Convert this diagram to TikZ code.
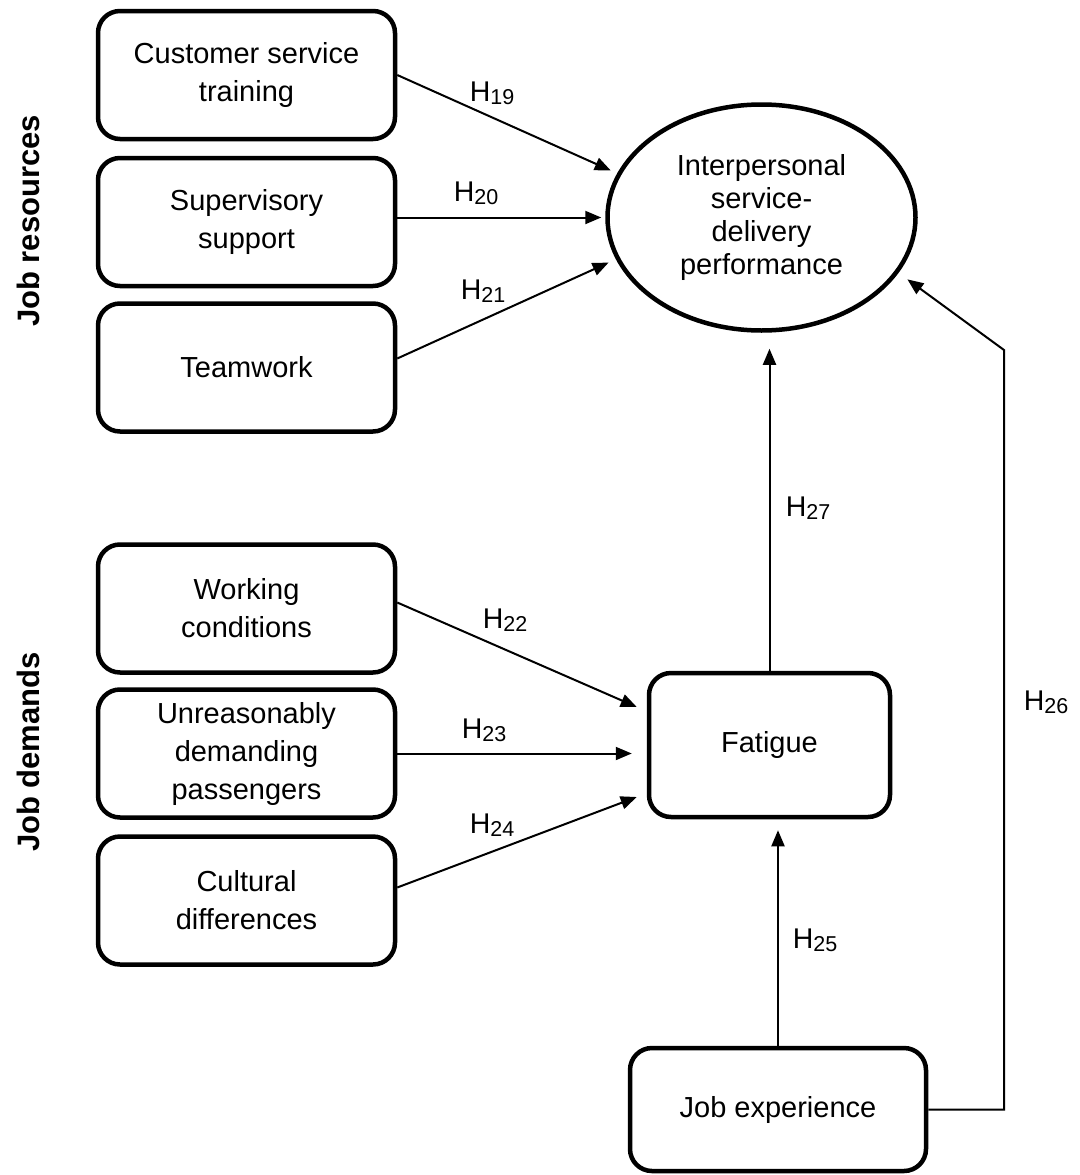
\documentclass[tikz,border=0pt]{standalone}
\usepackage{fontspec}
\setmainfont{Liberation Sans}
\usetikzlibrary{shapes.geometric,arrows.meta,calc}
% hypothesis label: H with a smaller, slightly lowered number
\newcommand\hyp[1]{H\raisebox{-3pt}{\fontsize{21.5}{21.5}\selectfont #1}}
\begin{document}
\begin{tikzpicture}[x=1pt,y=-1pt,
  box/.style={draw, line width=4.5pt, rounded corners=22pt, minimum width=297pt,
    minimum height=128pt, align=center, inner sep=0pt,
    font=\fontsize{29}{38}\selectfont},
  oval/.style={draw, ellipse, line width=4.5pt, minimum width=308pt, minimum height=226pt,
    align=center, inner sep=0pt, font=\fontsize{29}{33}\selectfont},
  hlabel/.style={inner sep=0pt, font=\fontsize{28.5}{30}\selectfont},
  side/.style={rotate=90, inner sep=0pt, font=\bfseries\fontsize{31}{32}\selectfont},
  arr/.style={line width=2pt, -{Triangle[length=16pt,width=13pt]}},
]
\useasboundingbox (0,0) rectangle (1079,1175);

% job resources
\node[box] (cst) at (246.5,75)    {Customer service\\training};
\node[box] (sup) at (246.5,222)   {Supervisory\\support};
\node[box] (tw)  at (246.5,367.5) {Teamwork};
% job demands
\node[box] (wc)  at (246.5,608.5) {Working\\conditions};
\node[box] (udp) at (246.5,753.5) {Unreasonably\\demanding\\passengers};
\node[box] (cd)  at (246.5,900.5) {Cultural\\differences};

% outcome, mediator and job experience
\node[oval] (ipd) at (761.5,217.5) {Interpersonal\\service-\\delivery\\performance};
\node[box, minimum width=241pt, minimum height=144pt] (fat) at (769.5,745) {Fatigue};
\node[box, minimum width=296pt, minimum height=123pt] (je) at (778,1109.5) {Job experience};

% group titles
\node[side] (res) at (28,221) {Job resources};
\node[side] (dem) at (28,752) {Job demands};

% resource paths
\draw[arr, shorten >=7pt] (cst.east) -- (ipd.163);
\draw[arr, shorten >=4pt] (sup.east |- ipd.west) -- (ipd.west);
\draw[arr, shorten >=8pt] ($(tw.east)+(0,-9)$) -- (ipd.196);
% demand paths
\draw[arr] ($(wc.east)+(0,-6)$) -- ($(fat.west)+(-10,-38)$);
\draw[arr, shorten >=15pt] (udp.east) -- (udp.east -| fat.west);
\draw[arr] ($(cd.east)+(0,-13)$) -- ($(fat.west)+(-10,52)$);
% fatigue and job experience paths
\draw[arr, shorten >=16pt] (fat.north) -- (fat.north |- ipd.south);
\draw[arr, shorten >=11pt] (je.north) -- (je.north |- fat.south);
\coordinate (c26) at (1004,350);
\draw[arr, shorten >=11pt] (je.east) -- (je.east -| c26) -- (c26) -- (ipd.338);

% hypothesis labels
\node[hlabel] (h19) at (492,93)  {\hyp{19}};
\node[hlabel] (h20) at (476,193) {\hyp{20}};
\node[hlabel] (h21) at (483,291) {\hyp{21}};
\node[hlabel] (h22) at (505,620) {\hyp{22}};
\node[hlabel] (h23) at (484,730) {\hyp{23}};
\node[hlabel] (h24) at (492,825) {\hyp{24}};
\node[hlabel] (h27) at (808,508) {\hyp{27}};
\node[hlabel] (h25) at (815,940) {\hyp{25}};
\node[hlabel] (h26) at (1046,702) {\hyp{26}};
\end{tikzpicture}
\end{document}
